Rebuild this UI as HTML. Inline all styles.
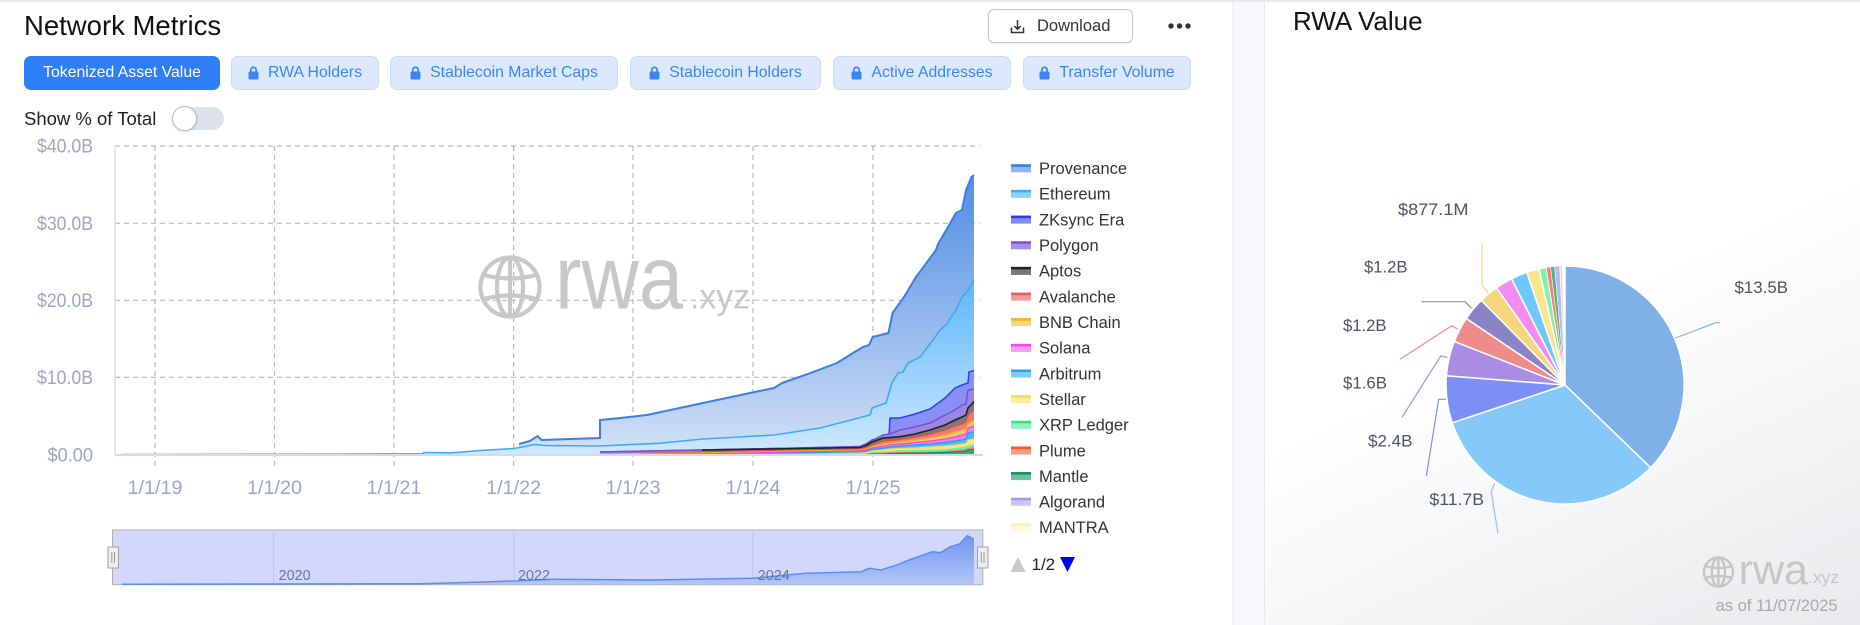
<!DOCTYPE html>
<html>
<head>
<meta charset="utf-8">
<style>
*{box-sizing:border-box;margin:0;padding:0}
body{width:1860px;height:625px;position:relative;overflow:hidden;background:#fff;font-family:"Liberation Sans",sans-serif;}
.abs{position:absolute}
.btn{position:absolute;top:56px;height:34px;border-radius:7px;display:flex;align-items:center;justify-content:center;gap:9px;font-size:15.8px;white-space:nowrap}
.off{background:#dce9fd;border:1px solid #c8dbfb;color:#3b84f5}
.on{background:#2e7ef8;color:#fff;border:1px solid #2e7ef8}
</style>
</head>
<body>
<div class="abs" style="left:0;top:0;width:1860px;height:2px;background:#e7e9ec"></div>
<div class="abs" style="left:1232px;top:2px;width:33px;height:623px;background:#f6f8fc;border-left:1px solid #edf0f5;border-right:1px solid #e6eaf0"></div>
<div class="abs" style="left:1265px;top:2px;width:595px;height:623px;background:linear-gradient(155deg,#ffffff 0%,#ffffff 50%,#e8eaed 100%)"></div>

<div class="abs" style="left:24px;top:8px;font-size:27.5px;line-height:36px;color:#111">Network Metrics</div>
<div class="abs" style="left:1293px;top:4px;font-size:26px;line-height:34px;color:#111">RWA Value</div>

<div class="btn on" style="left:24px;width:196px">Tokenized Asset Value</div>
<div class="btn off" style="left:231px;width:148px"><svg width="11" height="14" viewBox="0 0 11 14"><path d="M2.8,6 V4 a2.7,2.7 0 0 1 5.4,0 V6" fill="none" stroke="#3b84f5" stroke-width="1.8"/><rect x="0.5" y="5.5" width="10" height="8" rx="1.5" fill="#3b84f5"/></svg><span>RWA Holders</span></div>
<div class="btn off" style="left:390px;width:228px"><svg width="11" height="14" viewBox="0 0 11 14"><path d="M2.8,6 V4 a2.7,2.7 0 0 1 5.4,0 V6" fill="none" stroke="#3b84f5" stroke-width="1.8"/><rect x="0.5" y="5.5" width="10" height="8" rx="1.5" fill="#3b84f5"/></svg><span>Stablecoin Market Caps</span></div>
<div class="btn off" style="left:630px;width:191px"><svg width="11" height="14" viewBox="0 0 11 14"><path d="M2.8,6 V4 a2.7,2.7 0 0 1 5.4,0 V6" fill="none" stroke="#3b84f5" stroke-width="1.8"/><rect x="0.5" y="5.5" width="10" height="8" rx="1.5" fill="#3b84f5"/></svg><span>Stablecoin Holders</span></div>
<div class="btn off" style="left:833px;width:178px"><svg width="11" height="14" viewBox="0 0 11 14"><path d="M2.8,6 V4 a2.7,2.7 0 0 1 5.4,0 V6" fill="none" stroke="#3b84f5" stroke-width="1.8"/><rect x="0.5" y="5.5" width="10" height="8" rx="1.5" fill="#3b84f5"/></svg><span>Active Addresses</span></div>
<div class="btn off" style="left:1023px;width:168px"><svg width="11" height="14" viewBox="0 0 11 14"><path d="M2.8,6 V4 a2.7,2.7 0 0 1 5.4,0 V6" fill="none" stroke="#3b84f5" stroke-width="1.8"/><rect x="0.5" y="5.5" width="10" height="8" rx="1.5" fill="#3b84f5"/></svg><span>Transfer Volume</span></div>

<div class="abs" style="left:988px;top:9px;width:145px;height:34px;border:1px solid #c4c8ce;border-radius:6px;box-shadow:0 1px 2px rgba(0,0,0,0.08);display:flex;align-items:center;padding-left:21px;gap:12px;font-size:16.5px;color:#333">
<svg width="15" height="15" viewBox="0 0 15 15"><path d="M1.5,8.5 V13.5 H13.5 V8.5" fill="none" stroke="#333" stroke-width="1.5"/><path d="M7.5,1 V10 M4.3,7 L7.5,10.2 L10.7,7" fill="none" stroke="#333" stroke-width="1.5"/></svg><span>Download</span></div>
<svg class="abs" style="left:1165px;top:20px" width="30" height="12"><circle cx="6" cy="6" r="2.7" fill="#333"/><circle cx="14.5" cy="6" r="2.7" fill="#333"/><circle cx="23" cy="6" r="2.7" fill="#333"/></svg>

<div class="abs" style="left:24px;top:107px;font-size:18.5px;line-height:23px;color:#222">Show % of Total</div>
<div class="abs" style="left:173px;top:107px;width:51px;height:23px;border-radius:12px;background:#dce2ec"></div>
<div class="abs" style="left:172px;top:106px;width:25px;height:25px;border-radius:50%;background:#fff;border:1px solid #b8bcc4;box-shadow:0 1px 2px rgba(0,0,0,0.15)"></div>

<svg class="abs" style="left:0;top:0" width="1860" height="625" viewBox="0 0 1860 625" font-family="Liberation Sans, sans-serif">
<defs>
<linearGradient id="gProv" gradientUnits="userSpaceOnUse" x1="0" y1="175" x2="0" y2="455"><stop offset="0" stop-color="#4f8ee3"/><stop offset="0.5" stop-color="#8fb6ec"/><stop offset="1" stop-color="#d3e2f7"/></linearGradient>
<linearGradient id="gEth" gradientUnits="userSpaceOnUse" x1="0" y1="280" x2="0" y2="455"><stop offset="0" stop-color="#5cb7fa"/><stop offset="1" stop-color="#cfe9fd"/></linearGradient>
<linearGradient id="gMini" gradientUnits="userSpaceOnUse" x1="0" y1="535" x2="0" y2="584"><stop offset="0" stop-color="#6f96f0"/><stop offset="1" stop-color="#b3c5f8"/></linearGradient>
</defs>

<!-- grid -->
<g stroke="#b9b9b9" stroke-width="1.2" stroke-dasharray="5,4" fill="none">
<line x1="115" y1="146" x2="980" y2="146"/>
<line x1="115" y1="223.3" x2="980" y2="223.3"/>
<line x1="115" y1="300.3" x2="980" y2="300.3"/>
<line x1="115" y1="377.3" x2="980" y2="377.3"/>
<line x1="155" y1="146" x2="155" y2="468"/>
<line x1="274.5" y1="146" x2="274.5" y2="468"/>
<line x1="394" y1="146" x2="394" y2="468"/>
<line x1="513.6" y1="146" x2="513.6" y2="468"/>
<line x1="633" y1="146" x2="633" y2="468"/>
<line x1="753" y1="146" x2="753" y2="468"/>
<line x1="873" y1="146" x2="873" y2="468"/>
</g>
<line x1="115" y1="146" x2="115" y2="455" stroke="#d6e0f0" stroke-width="1.5"/>

<!-- y labels -->
<g fill="#9ba8c2" font-size="19" text-anchor="end">
<text x="93" y="152.6" textLength="56" lengthAdjust="spacingAndGlyphs">$40.0B</text>
<text x="93" y="229.9" textLength="56" lengthAdjust="spacingAndGlyphs">$30.0B</text>
<text x="93" y="306.9" textLength="56" lengthAdjust="spacingAndGlyphs">$20.0B</text>
<text x="93" y="383.9" textLength="56" lengthAdjust="spacingAndGlyphs">$10.0B</text>
<text x="93" y="461.6" textLength="45.5" lengthAdjust="spacingAndGlyphs">$0.00</text>
</g>
<g fill="#9ba8c2" font-size="19" text-anchor="middle">
<text x="155" y="494" textLength="55" lengthAdjust="spacingAndGlyphs">1/1/19</text>
<text x="274.5" y="494" textLength="55" lengthAdjust="spacingAndGlyphs">1/1/20</text>
<text x="394" y="494" textLength="55" lengthAdjust="spacingAndGlyphs">1/1/21</text>
<text x="513.6" y="494" textLength="55" lengthAdjust="spacingAndGlyphs">1/1/22</text>
<text x="633" y="494" textLength="55" lengthAdjust="spacingAndGlyphs">1/1/23</text>
<text x="753" y="494" textLength="55" lengthAdjust="spacingAndGlyphs">1/1/24</text>
<text x="873" y="494" textLength="55" lengthAdjust="spacingAndGlyphs">1/1/25</text>
</g>

<!-- watermark -->
<g stroke="#c8c8c8" stroke-width="4.2" fill="none">
<circle cx="510" cy="287" r="29.5"/>
<ellipse cx="510" cy="287" rx="13" ry="29.5"/>
<line x1="510" y1="257.5" x2="510" y2="316.5"/>
<path d="M484,275 Q510,282 536,275"/>
<path d="M484,299 Q510,292 536,299"/>
</g>
<text x="555" y="308.5" font-size="90" fill="#c8c8c8" textLength="128" lengthAdjust="spacingAndGlyphs">rwa</text>
<text x="690" y="308.5" font-size="35" fill="#c8c8c8" textLength="60" lengthAdjust="spacingAndGlyphs">.xyz</text>

<!-- Provenance -->
<polygon fill="url(#gProv)" points="519,444 530,441 537.5,436 541.5,440 600,438 600,420 620,418 647,415 703,403 750,393 774,388 782,383 805,375 837,363 853,353 863,347 869,345 872.7,337 888.5,333 892.5,313 904,297 916,277 936,250 938,244 948,227 956,213 962,210 966,190 971.5,177 974,175 974,455 519,455"/>
<polyline fill="none" stroke="#3b7fe0" stroke-width="2" points="519,444 530,441 537.5,436 541.5,440 600,438 600,420 620,418 647,415 703,403 750,393 774,388 782,383 805,375 837,363 853,353 863,347 869,345 872.7,337 888.5,333 892.5,313 904,297 916,277 936,250 938,244 948,227 956,213 962,210 966,190 971.5,177 974,175"/>
<!-- Ethereum -->
<polygon fill="url(#gEth)" points="122,454.5 300,454.3 423,453.8 424,452.5 452,452.8 480,450.5 514,448.5 535,444.5 545,445.5 600,446 659,443.3 703,439 774,435 820,428 870,415 872,408 886,403 892,383 898,373 903,372 908,363 920,357 933,340 940,330 946,325 956,310 962,297 968,290 974,280 974,455 122,455"/>
<polyline fill="none" stroke="#3fa9f7" stroke-width="1.6" points="122,454.5 300,454.3 423,453.8 424,452.5 452,452.8 480,450.5 514,448.5 535,444.5 545,445.5 600,446 659,443.3 703,439 774,435 820,428 870,415 872,408 886,403 892,383 898,373 903,372 908,363 920,357 933,340 940,330 946,325 956,310 962,297 968,290 974,280"/>

<!-- small stacks -->
<polygon fill="#8a8ff5" points="600,452 700,450 800,448 860,446.5 866,444 872,440 883,437 889,436 890,418 900,418 915,414 930,409 945,398 955,388 962,385 968,383 969,372 974,370.5 974,455 600,455"/>
<polyline fill="none" stroke="#2f3ff0" stroke-width="1.5" points="600,452 700,450 800,448 860,446.5 866,444 872,440 883,437 889,436 890,418 900,418 915,414 930,409 945,398 955,388 962,385 968,383 969,372 974,370.5"/>
<polygon fill="#9d86e3" points="600,452 700,450 800,448 860,446.5 866,444 872,440.5 883,435 890,434 900,430 915,427 930,423 945,415 955,410 962,405 966,404 968,390 974,389 974,455 600,455"/>
<polyline fill="none" stroke="#7a4fd8" stroke-width="1.5" points="600,452 700,450 800,448 860,446.5 866,444 872,440.5 883,435 890,434 900,430 915,427 930,423 945,415 955,410 962,405 966,404 968,390 974,389"/>
<polygon fill="#7a7a7a" points="702,450 800,448.5 860,447.5 866,445.5 872,442 883,438 890,437.5 900,436.7 915,434 930,430 945,425 955,420 962,417 966,415 968,408 974,401.7 974,455 702,455"/>
<polyline fill="none" stroke="#222" stroke-width="1.6" points="702,450 800,448.5 860,447.5 866,445.5 872,442 883,438 890,437.5 900,436.7 915,434 930,430 945,425 955,420 962,417 966,415 968,408 974,401.7"/>
<polygon fill="#f07a7a" points="600,454 700,452 800,450 860,449 866,447.5 872,445 883,441 890,440.5 900,439.5 915,437 930,434 945,430 955,426 962,424 966,422 968,415 974,410 974,455 600,455"/>
<polyline fill="none" stroke="#e84848" stroke-width="1.2" points="600,454 700,452 800,450 860,449 866,447.5 872,445 883,441 890,440.5 900,439.5 915,437 930,434 945,430 955,426 962,424 966,422 968,415 974,410"/>
<polygon fill="#f8c85a" points="600,454 700,453 800,451 860,450 866,449 872,446.5 883,444 890,443 900,442 915,440 930,438 945,435 955,432 962,430 966,429 968,424 974,420 974,455 600,455"/>
<polyline fill="none" stroke="#f0b020" stroke-width="1.2" points="600,454 700,453 800,451 860,450 866,449 872,446.5 883,444 890,443 900,442 915,440 930,438 945,435 955,432 962,430 966,429 968,424 974,420"/>
<polygon fill="#f27cf0" points="600,455 700,454 800,452 860,451 866,450 872,448 883,446 890,445 900,444 915,442.5 930,441 945,439 955,437 962,435 966,434 968,428 974,426 974,455 600,455"/>
<polyline fill="none" stroke="#ee44ea" stroke-width="1.2" points="600,455 700,454 800,452 860,451 866,450 872,448 883,446 890,445 900,444 915,442.5 930,441 945,439 955,437 962,435 966,434 968,428 974,426"/>
<polygon fill="#4cbaf7" points="600,455 700,454.5 800,453 860,452 866,451.5 872,449.5 883,448 890,447 900,446 915,445 930,444 945,442.5 955,441 962,440 966,439 968,433 974,432 974,455 600,455"/>
<polyline fill="none" stroke="#1ea0f0" stroke-width="1.2" points="600,455 700,454.5 800,453 860,452 866,451.5 872,449.5 883,448 890,447 900,446 915,445 930,444 945,442.5 955,441 962,440 966,439 968,433 974,432"/>
<polygon fill="#fce48a" points="600,455 700,455 800,454 860,453 866,452.5 872,451 883,450 890,449 900,448.5 915,448 930,447 945,446 955,445 962,444 966,443.5 968,440 974,439 974,455 600,455"/>
<polyline fill="none" stroke="#f8d850" stroke-width="1.2" points="600,454.5 700,454.5 800,454 860,453 866,452.5 872,451 883,450 890,449 900,448.5 915,448 930,447 945,446 955,445 962,444 966,443.5 968,440 974,439"/>
<polygon fill="#6ef2a8" points="600,455 800,454.5 860,454 866,453.5 872,452 883,451.5 890,451 900,450 930,449.5 945,449 955,448 962,447 966,446.5 968,445 974,444.5 974,455 600,455"/>
<polygon fill="#f7805a" points="600,455 800,455 860,454.5 866,454 872,453 883,452.5 900,452 930,451.5 945,451 955,450 962,449.5 966,449 968,448 974,447 974,455 600,455"/>
<polygon fill="#3aa676" points="600,455 860,455 866,454.5 872,454 883,454 890,453.5 930,453 945,452.5 955,452 962,451.5 966,451 968,450 974,449.5 974,455 600,455"/>
<polyline fill="none" stroke="#1a8a5a" stroke-width="1.2" points="640,454.5 860,454.5 866,454.5 872,454 883,454 890,453.5 930,453 945,452.5 955,452 962,451.5 966,451 968,450 974,449.5"/>

<line x1="115" y1="455" x2="983" y2="455" stroke="#cfdcf2" stroke-width="2"/>

<!-- legend -->
<g font-size="16.5" fill="#333">
<rect x="1011" y="164.3" width="20" height="8" fill="#8cb6ee"/><rect x="1011" y="164.3" width="20" height="2.5" fill="#3d7fdc"/><text x="1039" y="174.1">Provenance</text>
<rect x="1011" y="189.9" width="20" height="8" fill="#8fd0fb"/><rect x="1011" y="189.9" width="20" height="2.5" fill="#45aaf8"/><text x="1039" y="199.7">Ethereum</text>
<rect x="1011" y="215.6" width="20" height="8" fill="#7f8af6"/><rect x="1011" y="215.6" width="20" height="2.5" fill="#2b3cf0"/><text x="1039" y="225.4">ZKsync Era</text>
<rect x="1011" y="241.3" width="20" height="8" fill="#a98ee8"/><rect x="1011" y="241.3" width="20" height="2.5" fill="#7b52d8"/><text x="1039" y="251.1">Polygon</text>
<rect x="1011" y="266.9" width="20" height="8" fill="#777"/><rect x="1011" y="266.9" width="20" height="2.5" fill="#222"/><text x="1039" y="276.7">Aptos</text>
<rect x="1011" y="292.6" width="20" height="8" fill="#f49c9c"/><rect x="1011" y="292.6" width="20" height="2.5" fill="#ee5a5a"/><text x="1039" y="302.4">Avalanche</text>
<rect x="1011" y="318.2" width="20" height="8" fill="#f8d680"/><rect x="1011" y="318.2" width="20" height="2.5" fill="#f2b526"/><text x="1039" y="328">BNB Chain</text>
<rect x="1011" y="343.9" width="20" height="8" fill="#f59cf3"/><rect x="1011" y="343.9" width="20" height="2.5" fill="#ee4cec"/><text x="1039" y="353.7">Solana</text>
<rect x="1011" y="369.5" width="20" height="8" fill="#7fcbf8"/><rect x="1011" y="369.5" width="20" height="2.5" fill="#22a3f3"/><text x="1039" y="379.3">Arbitrum</text>
<rect x="1011" y="395.2" width="20" height="8" fill="#fcec9e"/><rect x="1011" y="395.2" width="20" height="2.5" fill="#f9dc5c"/><text x="1039" y="405">Stellar</text>
<rect x="1011" y="420.8" width="20" height="8" fill="#8ff3bd"/><rect x="1011" y="420.8" width="20" height="2.5" fill="#2ee887"/><text x="1039" y="430.6">XRP Ledger</text>
<rect x="1011" y="446.5" width="20" height="8" fill="#f89b80"/><rect x="1011" y="446.5" width="20" height="2.5" fill="#f35a2e"/><text x="1039" y="456.3">Plume</text>
<rect x="1011" y="472.1" width="20" height="8" fill="#6fbf9b"/><rect x="1011" y="472.1" width="20" height="2.5" fill="#1b8a5c"/><text x="1039" y="481.9">Mantle</text>
<rect x="1011" y="497.8" width="20" height="8" fill="#c7c7f7"/><rect x="1011" y="497.8" width="20" height="2.5" fill="#9a9af2"/><text x="1039" y="507.6">Algorand</text>
<rect x="1011" y="523.4" width="20" height="8" fill="#fdf8dc"/><rect x="1011" y="523.4" width="20" height="2.5" fill="#fbf1b0"/><text x="1039" y="533.2">MANTRA</text>
</g>
<polygon points="1010.5,572 1018,557 1025.5,572" fill="#c8c8c8"/>
<text x="1031.5" y="570" font-size="17" fill="#222">1/2</text>
<polygon points="1060,557 1075,557 1067.5,572" fill="#0000ff"/>

<!-- slider -->
<rect x="112.5" y="530" width="870.3" height="54.7" fill="#d2d8fb" stroke="#b0b0b0" stroke-width="1"/>
<g stroke="#bfc6ef" stroke-width="1"><line x1="273.6" y1="531" x2="273.6" y2="584"/><line x1="514" y1="531" x2="514" y2="584"/><line x1="752.7" y1="531" x2="752.7" y2="584"/></g>
<polygon fill="url(#gMini)" points="122,584.3 422,583.7 483,582 514,581 554,579.3 650,580 752.7,578.3 806,573.3 861.4,571.7 869,568.3 881,570 897,565 909,560 932.6,551.7 940.5,552.7 950.4,546.7 959.5,544 967.4,535.7 974,539.3 974,584.5 122,584.5"/>
<polyline fill="none" stroke="#5b8def" stroke-width="1.5" points="122,584.3 422,583.7 483,582 514,581 554,579.3 650,580 752.7,578.3 806,573.3 861.4,571.7 869,568.3 881,570 897,565 909,560 932.6,551.7 940.5,552.7 950.4,546.7 959.5,544 967.4,535.7 974,539.3"/>
<g font-size="14.4" fill="#6e7595"><text x="278.6" y="580">2020</text><text x="518" y="580">2022</text><text x="757.8" y="580">2024</text></g>
<rect x="108" y="547" width="10.5" height="21" fill="#eeeeee" stroke="#a0a0a0" stroke-width="1"/>
<line x1="111.8" y1="552" x2="111.8" y2="563" stroke="#999" stroke-width="1"/><line x1="114.5" y1="552" x2="114.5" y2="563" stroke="#999" stroke-width="1"/>
<rect x="977.5" y="547" width="10.5" height="21" fill="#eeeeee" stroke="#a0a0a0" stroke-width="1"/>
<line x1="981.3" y1="552" x2="981.3" y2="563" stroke="#999" stroke-width="1"/><line x1="984" y1="552" x2="984" y2="563" stroke="#999" stroke-width="1"/>

<!-- pie -->
<g stroke="#ffffff" stroke-width="1.5" stroke-linejoin="round">
<path d="M1565,385 L1565,266 A119,119 0 0 1 1650.6,467.7 Z" fill="#80b0e8"/>
<path d="M1565,385 L1650.6,467.7 A119,119 0 0 1 1452.2,422.8 Z" fill="#85c8fa"/>
<path d="M1565,385 L1452.2,422.8 A119,119 0 0 1 1446.4,375.7 Z" fill="#7b8ff7"/>
<path d="M1565,385 L1446.4,375.7 A119,119 0 0 1 1454.3,341.4 Z" fill="#a98de3"/>
<path d="M1565,385 L1454.3,341.4 A119,119 0 0 1 1466.3,318.5 Z" fill="#f08b8b"/>
<path d="M1565,385 L1466.3,318.5 A119,119 0 0 1 1481.3,300.4 Z" fill="#8884c7"/>
<path d="M1565,385 L1481.3,300.4 A119,119 0 0 1 1496.4,287.8 Z" fill="#f5d57e"/>
<path d="M1565,385 L1496.4,287.8 A119,119 0 0 1 1511.5,278.7 Z" fill="#f28cf0"/>
<path d="M1565,385 L1511.5,278.7 A119,119 0 0 1 1526.8,272.3 Z" fill="#6ec8fb"/>
<path d="M1565,385 L1526.8,272.3 A119,119 0 0 1 1539,268.9 Z" fill="#fae58a"/>
<path d="M1565,385 L1539,268.9 A119,119 0 0 1 1546.2,267.5 Z" fill="#7ff0b0"/>
<path d="M1565,385 L1546.2,267.5 A119,119 0 0 1 1550.5,266.9 Z" fill="#f5826a" stroke-width="0.6"/>
<path d="M1565,385 L1550.5,266.9 A119,119 0 0 1 1554.6,266.5 Z" fill="#4fb08a" stroke-width="0.6"/>
<path d="M1565,385 L1554.6,266.5 A119,119 0 0 1 1559.8,266.1 Z" fill="#b8b8f0" stroke-width="0.6"/>
<path d="M1565,385 L1559.8,266.1 A119,119 0 0 1 1562.5,266 Z" fill="#e8e4c8" stroke-width="0.6"/>
</g>
<g fill="none" stroke-width="1.2">
<polyline points="1675.6,338 1715.6,322.7 1720,322.7" stroke="#80b0e8"/>
<polyline points="1482,243 1482,285 1488.3,293.3" stroke="#f5d57e"/>
<polyline points="1421.8,301.7 1465,301.7 1471.5,308.3" stroke="#8884c7"/>
<polyline points="1400,359.3 1451.7,325.7 1457.6,329.3" stroke="#f08b8b"/>
<polyline points="1402,417.3 1440.7,356 1447.5,357.3" stroke="#a98de3"/>
<polyline points="1426.4,475.7 1438.6,399.3 1446,399.3" stroke="#7b8ff7"/>
<polyline points="1498,533.3 1491.2,491.7 1494.6,483.3" stroke="#85c8fa"/>
</g>
<g font-size="17" fill="#4a5466">
<text x="1734.5" y="293" textLength="53.5" lengthAdjust="spacingAndGlyphs">$13.5B</text>
<text x="1398" y="215" textLength="70.5" lengthAdjust="spacingAndGlyphs">$877.1M</text>
<text x="1364" y="272.7" textLength="43.5" lengthAdjust="spacingAndGlyphs">$1.2B</text>
<text x="1343" y="331" textLength="43.5" lengthAdjust="spacingAndGlyphs">$1.2B</text>
<text x="1343" y="388.3" textLength="44" lengthAdjust="spacingAndGlyphs">$1.6B</text>
<text x="1368" y="446.7" textLength="44.5" lengthAdjust="spacingAndGlyphs">$2.4B</text>
<text x="1429.4" y="505" textLength="54.6" lengthAdjust="spacingAndGlyphs">$11.7B</text>
</g>

<!-- right watermark -->
<g stroke="#c6c6c6" stroke-width="2.4" fill="none">
<circle cx="1718.4" cy="572" r="14.5"/>
<ellipse cx="1718.4" cy="572" rx="6.5" ry="14.5"/>
<line x1="1718.4" y1="557.5" x2="1718.4" y2="586.5"/>
<path d="M1705,566 Q1718.4,570 1731.8,566"/>
<path d="M1705,578 Q1718.4,574 1731.8,578"/>
</g>
<text x="1738.7" y="584" font-size="42" fill="#c6c6c6" textLength="69.3" lengthAdjust="spacingAndGlyphs">rwa</text>
<text x="1808" y="583" font-size="17" fill="#c6c6c6" textLength="31" lengthAdjust="spacingAndGlyphs">.xyz</text>
<text x="1715.6" y="611" font-size="16.5" fill="#a8a8a8" textLength="122" lengthAdjust="spacingAndGlyphs">as of 11/07/2025</text>
</svg>
</body>
</html>
